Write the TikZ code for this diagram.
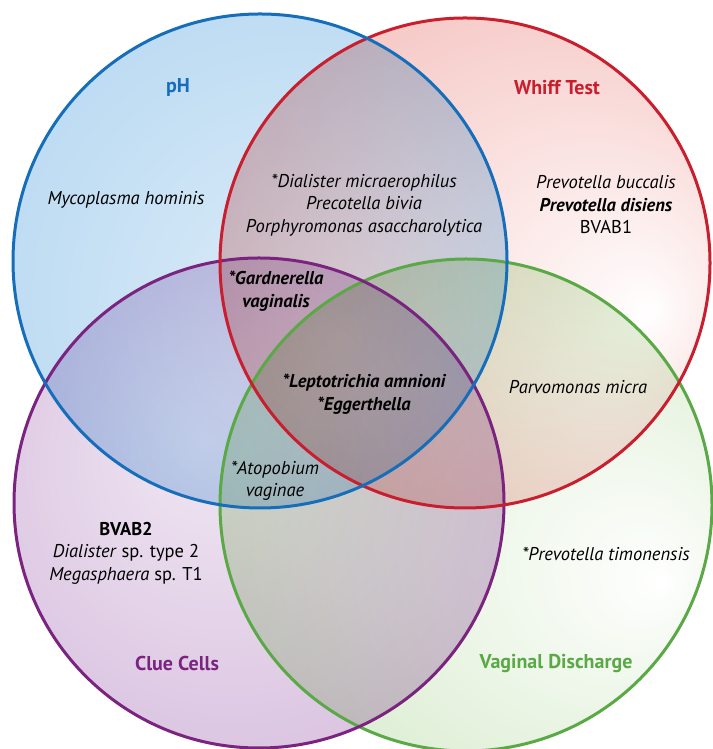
\documentclass[tikz,border=0pt]{standalone}
\usepackage{fontspec}
\setmainfont{PT Sans}
\definecolor{bLine}{RGB}{22,110,186}
\definecolor{rLine}{RGB}{200,30,45}
\definecolor{pLine}{RGB}{122,36,128}
\definecolor{gLine}{RGB}{90,168,70}
\definecolor{bFill}{RGB}{166,207,238}
\definecolor{rFill}{RGB}{240,168,163}
\definecolor{pFill}{RGB}{204,172,213}
\definecolor{gFill}{RGB}{196,226,180}
\pgfdeclareradialshading{shBlue}{\pgfpoint{8bp}{-8bp}}{color(0bp)=(bFill!35!white); color(50bp)=(bFill)}
\pgfdeclareradialshading{shRed}{\pgfpoint{19bp}{-5bp}}{color(0bp)=(white); color(4bp)=(rFill!10!white); color(50bp)=(rFill)}
\pgfdeclareradialshading{shPurple}{\pgfpoint{-6bp}{6bp}}{color(0bp)=(pFill!30!white); color(50bp)=(pFill)}
\pgfdeclareradialshading{shGreen}{\pgfpoint{20bp}{-8bp}}{color(0bp)=(white); color(4bp)=(gFill!10!white); color(50bp)=(gFill)}
\tikzset{
  ring/.style={line width=3pt},
  lbl/.style={font=\fontsize{20}{24}\selectfont\bfseries},
  txt/.style={font=\fontsize{18.5}{22.5}\selectfont, align=center, inner sep=0pt}
}
\begin{document}
\begin{tikzpicture}[x=1pt,y=1pt]
\useasboundingbox (0,0) rectangle (712,749);
\coordinate (cB) at (260,488);
\coordinate (cR) at (465,486);
\coordinate (cP) at (259,246);
\coordinate (cG) at (466,244);
\shade[shading=shBlue, blend mode=multiply] (cB) circle (247);
\shade[shading=shRed, blend mode=multiply] (cR) circle (245);
\shade[shading=shPurple, blend mode=multiply] (cP) circle (245);
\shade[shading=shGreen, blend mode=multiply] (cG) circle (246);
\draw[ring, gLine] (cG) circle (246);
\draw[ring, pLine] (cP) circle (245);
\draw[ring, rLine] (cR) circle (245);
\draw[ring, bLine] (cB) circle (247);
% category labels
\node[lbl, text=bLine] (lph) at (178,661) {pH};
\node[lbl, text=rLine] (lwh) at (557,661) {Whiff Test};
\node[lbl, text=pLine] (lcc) at (177,85) {Clue Cells};
\node[lbl, text=gLine] (lvd) at (556,85) {Vaginal Discharge};
% region texts
\node[txt] (t1) at (126,549) {\itshape Mycoplasma hominis};
\node[txt] (t2) at (364,544) {\itshape *Dialister micraerophilus\\\itshape Precotella bivia\\\itshape Porphyromonas asaccharolytica};
\node[txt] (t3) at (606,544) {\itshape Prevotella buccalis\\\bfseries\itshape Prevotella disiens\\BVAB1};
\node[txt] (t4) at (276,458) {\bfseries\itshape *Gardnerella\\\bfseries\itshape vaginalis};
\node[txt] (t5) at (364,355) {\bfseries\itshape *Leptotrichia amnioni\\\bfseries\itshape *Eggerthella};
\node[txt] (t6) at (578,362) {\itshape Parvomonas micra};
\node[txt] (t7) at (275,268) {\itshape *Atopobium\\\itshape vaginae};
\node[txt] (t8) at (126,196) {\bfseries BVAB2\\\textit{Dialister} sp. type 2\\\textit{Megasphaera} sp. T1};
\node[txt] (t9) at (606,195) {\itshape *Prevotella timonensis};
\end{tikzpicture}
\end{document}
